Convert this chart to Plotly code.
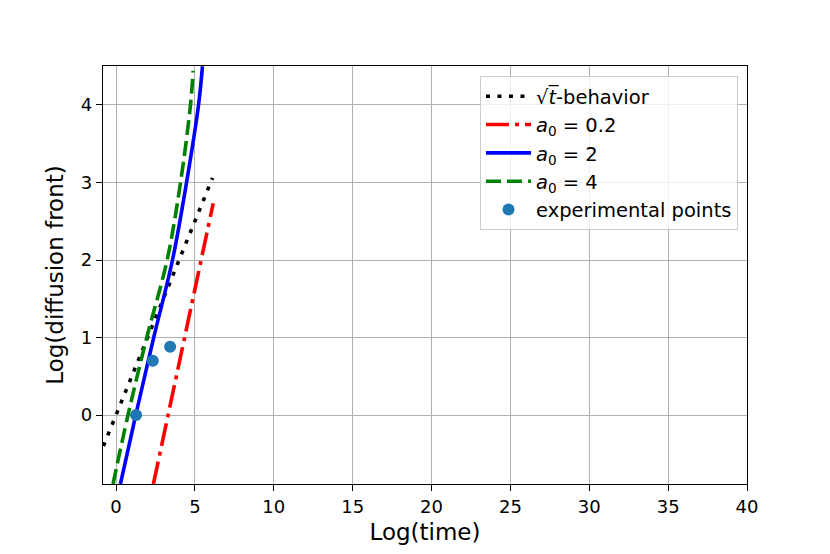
import plotly.graph_objects as go

# values (log scales)
sqrt_x = [-0.8, 6.12]
sqrt_y = [-0.4, 3.06]

a02_x = [2.37, 6.16]
a02_y = [-0.89, 2.73]

a2_x = [0.28, 1.25, 2.39, 3.58, 4.47, 5.23, 5.48]
a2_y = [-0.89, 0.0, 1.0, 2.0, 3.0, 4.0, 4.5]

a4_x = [-0.19, 0.76, 1.95, 3.24, 4.09, 4.72, 4.89]
a4_y = [-0.89, 0.0, 1.0, 2.0, 3.0, 4.0, 4.44]

exp_x = [1.27, 2.33, 3.43]
exp_y = [0.0, 0.70, 0.88]

x_ticks = [0, 5, 10, 15, 20, 25, 30, 35, 40]
y_ticks = [0, 1, 2, 3, 4]

font = "DejaVu Sans"
lw = 3.6

fig = go.Figure()
fig.add_trace(go.Scatter(x=sqrt_x, y=sqrt_y, mode="lines", name="√<i>t\u0305</i>-behavior",
                         line=dict(color="black", width=lw, dash="4px,7.5px"),
                         legendgroup="g1"))
fig.add_trace(go.Scatter(x=a02_x, y=a02_y, mode="lines", name="<i>a</i><sub>0</sub> = 0.2",
                         line=dict(color="red", width=lw, dash="23px,6px,4px,6px"),
                         legendgroup="g2"))
fig.add_trace(go.Scatter(x=a2_x, y=a2_y, mode="lines", name="<i>a</i><sub>0</sub> = 2",
                         line=dict(color="blue", width=lw, shape="spline", smoothing=1.0),
                         legendgroup="g3"))
fig.add_trace(go.Scatter(x=a4_x, y=a4_y, mode="lines", name="<i>a</i><sub>0</sub> = 4",
                         line=dict(color="green", width=lw, dash="15px,6px", shape="spline", smoothing=1.0),
                         legendgroup="g4"))
fig.add_trace(go.Scatter(x=exp_x, y=exp_y, mode="markers", name="experimental points",
                         marker=dict(color="#1f77b4", size=12),
                         legendgroup="g5"))

axis_style = dict(showline=True, linecolor="black", linewidth=1.4, mirror=True,
                  showgrid=True, gridcolor="#b0b0b0", gridwidth=1.4, zeroline=False,
                  ticks="outside", ticklen=6, tickwidth=1.4, tickcolor="black",
                  tickfont=dict(family=font, size=18, color="black"))

fig.update_xaxes(range=[-0.825, 40], tickvals=x_ticks,
                 title=dict(text="Log(time)", font=dict(family=font, size=23, color="black"), standoff=8),
                 **axis_style)
fig.update_yaxes(range=[-0.89, 4.503], tickvals=y_ticks,
                 title=dict(text="Log(diffusion front)", font=dict(family=font, size=23, color="black"), standoff=10),
                 **axis_style)

fig.update_layout(
    width=830, height=554,
    margin=dict(l=95, r=91, t=58, b=78),
    plot_bgcolor="white", paper_bgcolor="white",
    font=dict(family=font, color="black"),
    legend=dict(x=0.986, y=0.976, xanchor="right", yanchor="top",
                bgcolor="rgba(255,255,255,0.8)", bordercolor="#cccccc", borderwidth=1,
                font=dict(family=font, size=19.5, color="black"), tracegroupgap=0,
                itemwidth=45),
)

fig.write_html("out.html")
